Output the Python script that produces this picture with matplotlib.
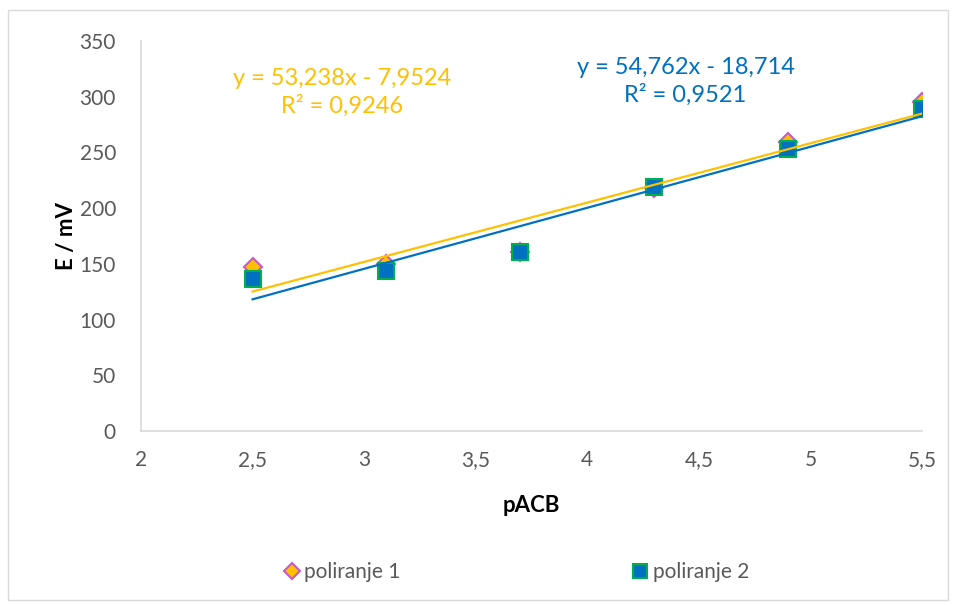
import matplotlib
matplotlib.use("Agg")

import matplotlib.pyplot as plt
from matplotlib.patches import Rectangle

# pACB values and measured potentials (mV)
pacb = [2.5, 3.1, 3.7, 4.3, 4.9, 5.5]
polir1 = [147, 150, 161, 218, 259, 295]
polir2 = [136, 144, 161, 219, 253, 289]

# trendline coefficients, as shown on the chart
fit1 = [53.238, -7.9524]
fit2 = [54.762, -18.714]
r2 = [0.9246, 0.9521]

xticks = [2, 2.5, 3, 3.5, 4, 4.5, 5, 5.5]
xticklabels = ["2", "2,5", "3", "3,5", "4", "4,5", "5", "5,5"]
yticks = [0, 50, 100, 150, 200, 250, 300, 350]

ORANGE = "#FFC000"
BLUE = "#0070C0"
GREY = "#595959"

plt.rcParams["font.family"] = ["Lato", "DejaVu Sans"]

fig = plt.figure(figsize=(9.54, 6.05), dpi=100)
fig.patches.append(Rectangle((8 / 954, 5 / 605), 940 / 954, 590 / 605,
                             transform=fig.transFigure, fill=False,
                             edgecolor="#d9d9d9", linewidth=1))
ax = fig.add_axes([141 / 954, 1 - 431 / 605, 781 / 954, 390 / 605])

ax.plot(pacb, polir1, linestyle="none", marker="D", markersize=9,
        markerfacecolor=ORANGE, markeredgecolor="#C55AC8", markeredgewidth=1.5,
        label="poliranje 1", zorder=3)
ax.plot(pacb, polir2, linestyle="none", marker="s", markersize=12,
        markerfacecolor=BLUE, markeredgecolor="#00B050", markeredgewidth=1.5,
        label="poliranje 2", zorder=4)

xs = [pacb[0], pacb[-1]]
ax.plot(xs, [fit1[0] * v + fit1[1] for v in xs], color=ORANGE, lw=1.6, zorder=5)
ax.plot(xs, [fit2[0] * v + fit2[1] for v in xs], color=BLUE, lw=1.6, zorder=6)

def num(v):
    return f"{v:g}".replace(".", ",")

ax.text(2.90, 304, f"y = {num(fit1[0])}x - {num(-fit1[1])}\nR² = {num(r2[0])}",
        color=ORANGE, fontsize=17, ha="center", va="center", linespacing=1.3)
ax.text(4.44, 314, f"y = {num(fit2[0])}x - {num(-fit2[1])}\nR² = {num(r2[1])}",
        color=BLUE, fontsize=17, ha="center", va="center", linespacing=1.3)

ax.set_xlim(2, 5.5)
ax.set_ylim(0, 350)
ax.set_xticks(xticks)
ax.set_xticklabels(xticklabels)
ax.set_yticks(yticks)
ax.tick_params(length=0, labelsize=15, labelcolor=GREY)
ax.tick_params(axis="x", pad=14)
ax.tick_params(axis="y", pad=18)
for s in ["top", "right"]:
    ax.spines[s].set_visible(False)
for s in ["left", "bottom"]:
    ax.spines[s].set_color("#d9d9d9")
    ax.spines[s].set_linewidth(1.2)

ax.set_xlabel("pACB", fontsize=16, fontweight="bold", labelpad=18)
ax.set_ylabel("E / mV", fontsize=16, fontweight="bold", labelpad=2)

fig.legend(loc="center", bbox_to_anchor=(0.54, 1 - 572 / 605), ncol=2,
           frameon=False, fontsize=15, columnspacing=11, handletextpad=0.1,
           handlelength=1.0, markerscale=0.85, labelcolor=GREY)

fig.savefig("out.png", dpi=100)
